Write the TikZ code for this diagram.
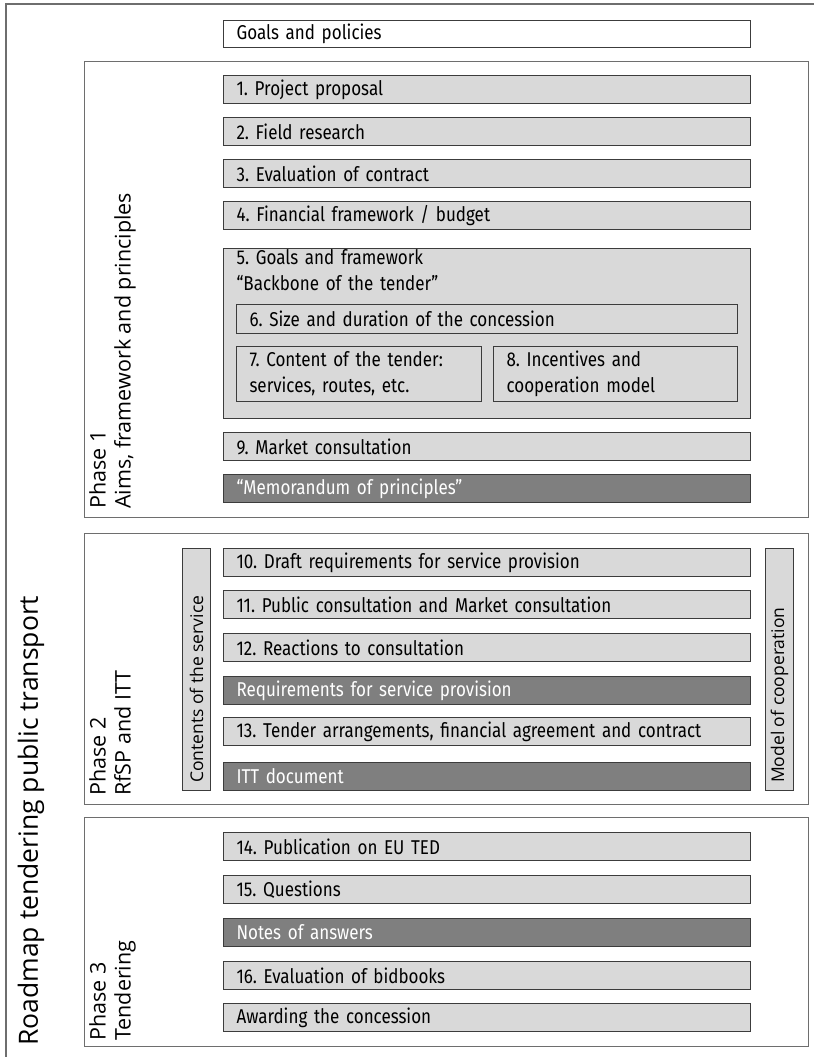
\documentclass[tikz,border=0pt]{standalone}
\usepackage{fontspec}
\setmainfont{Fira Sans}[FakeStretch=0.85]
\newfontfamily\labelfont{Open Sans}
\definecolor{boxfill}{HTML}{D9D9D9}
\definecolor{darkfill}{HTML}{7F7F7F}
\definecolor{frameline}{HTML}{6E6E6E}
\definecolor{boxline}{HTML}{3C3C3C}
\tikzset{
  phasebox/.style={draw=frameline, line width=1.2pt, anchor=north west, inner sep=0pt},
  stepbox/.style={draw=boxline, line width=1.1pt, fill=boxfill, anchor=north west,
    inner xsep=13pt, inner ysep=0pt, align=left, text width=501pt,
    minimum height=28pt, font=\fontsize{20}{26}\selectfont\frenchspacing},
  halfbox/.style={stepbox, text width=219pt, minimum height=55pt},
  innerbox/.style={stepbox, text width=475pt, minimum height=29pt},
  resultbox/.style={stepbox, fill=darkfill, text=white},
  sidebar/.style={draw=boxline, line width=1.1pt, fill=boxfill, anchor=north west,
    inner sep=0pt, minimum width=28pt, minimum height=242pt},
  sidetext/.style={rotate=90, anchor=west, inner sep=0pt,
    font=\labelfont\fontsize{17.5}{20}\selectfont},
  phasetext/.style={rotate=90, anchor=north west, align=left, inner sep=0pt,
    font=\labelfont\fontsize{21.5}{25}\selectfont},
}
\begin{document}
\begin{tikzpicture}[x=1pt, y=-1pt]
\useasboundingbox (0,0) rectangle (814,1057);

% outer frame, open to the right and bottom
\draw[frameline, line width=1.2pt] (6,1057) -- (6,4) -- (814,4);
\node[rotate=90, anchor=west, inner sep=0pt, font=\labelfont\fontsize{26.5}{30}\selectfont]
  (roadmap) at (31,1046) {Roadmap tendering public transport};

\node[stepbox, fill=white, minimum height=27pt] (goals) at (223,20) {Goals and policies};

% Phase 1
\node[phasebox, minimum width=724pt, minimum height=456pt] (p1) at (84,61) {};
\node[phasetext] (p1t) at (89,509) {Phase 1\\Aims, framework and principles};
\node[stepbox] (s1) at (223,75) {1. Project proposal};
\node[stepbox] (s2) at (223,117) {2. Field research};
\node[stepbox] (s3) at (223,159) {3. Evaluation of contract};
\node[stepbox] (s4) at (223,201) {4. Financial framework / budget};
\node[stepbox, minimum height=170pt] (s5) at (223,248) {};
\node[stepbox, draw=none, fill=none, minimum height=0pt, inner ysep=1pt]
  (s5t) at (223,248) {5. Goals and framework\\``Backbone of the tender''};
\node[innerbox] (s6) at (236,304) {6. Size and duration of the concession};
\node[halfbox] (s7) at (236,346) {7. Content of the tender:\\services, routes, etc.};
\node[halfbox, text width=218pt] (s8) at (493,346) {8. Incentives and\\cooperation model};
\node[stepbox] (s9) at (223,432) {9. Market consultation};
\node[resultbox] (memo) at (223,474) {``Memorandum of principles''};

% Phase 2
\node[phasebox, minimum width=724pt, minimum height=271pt] (p2) at (84,533) {};
\node[phasetext] (p2t) at (89,796) {Phase 2\\RfSP and ITT};
\node[sidebar] (cont) at (182,548) {};
\node[sidetext] (contt) at ([yshift=8pt]cont.south) {Contents of the service};
\node[sidebar] (model) at (765,548) {};
\node[sidetext] (modelt) at ([yshift=8pt]model.south) {Model of cooperation};
\node[stepbox] (s10) at (223,548) {10. Draft requirements for service provision};
\node[stepbox] (s11) at (223,590) {11. Public consultation and Market consultation};
\node[stepbox] (s12) at (223,633) {12. Reactions to consultation};
\node[resultbox] (req) at (223,676) {Requirements for service provision};
\node[stepbox] (s13) at (223,717) {13. Tender arrangements, financial agreement and contract};
\node[resultbox] (itt) at (223,762) {ITT document};

% Phase 3
\node[phasebox, minimum width=724pt, minimum height=229pt] (p3) at (84,817) {};
\node[phasetext] (p3t) at (89,1041) {Phase 3\\Tendering};
\node[stepbox] (s14) at (223,832) {14. Publication on EU TED};
\node[stepbox] (s15) at (223,875) {15. Questions};
\node[resultbox] (notes) at (223,918) {Notes of answers};
\node[stepbox] (s16) at (223,961) {16. Evaluation of bidbooks};
\node[stepbox] (award) at (223,1003) {Awarding the concession};
\end{tikzpicture}
\end{document}
